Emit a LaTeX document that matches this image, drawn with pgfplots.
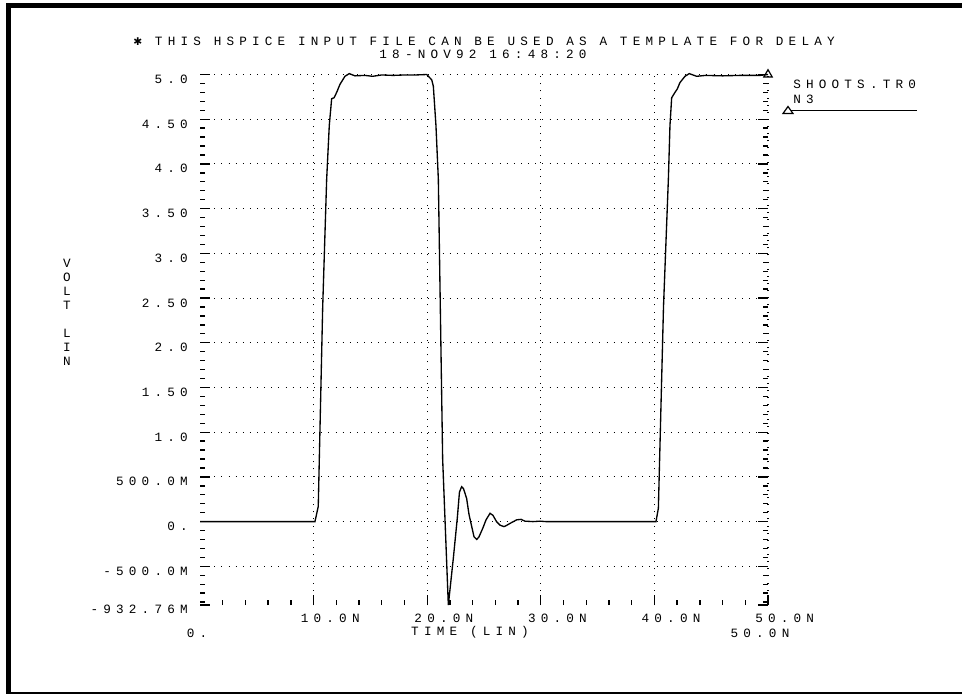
\documentclass[border=0pt]{standalone}
\usepackage{pgfplots}
\pgfplotsset{compat=1.18}
\usepackage{fontspec}
\setmainfont{Liberation Mono}
\newfontfamily\pf[LetterSpace=41]{Liberation Mono}
\newfontfamily\dv{DejaVu Sans}
\newcommand\pff{\pf\fontsize{9.5pt}{10.5pt}\selectfont}

\pgfplotstableread{
t v
0 0
10.12 0
10.41 0.17
10.8 2.4
11.15 3.83
11.38 4.43
11.59 4.73
11.80 4.74
12.03 4.80
12.32 4.89
12.76 4.98
13.14 5.01
13.64 4.985
14.5 4.99
15.2 4.98
16.0 4.995
17.0 4.99
18.0 4.995
19.0 4.995
19.96 5.0
20.40 4.94
20.54 4.87
20.77 4.43
20.98 3.83
21.36 0.70
21.86 -0.93276
22.30 -0.41
22.65 0.04
22.84 0.33
23.03 0.39
23.19 0.37
23.47 0.26
23.68 0.08
23.92 -0.056
24.12 -0.17
24.36 -0.20
24.56 -0.17
24.89 -0.075
25.18 0.02
25.53 0.093
25.79 0.07
26.10 0.0
26.41 -0.04
26.76 -0.056
27.02 -0.04
27.29 -0.02
27.88 0.02
28.26 0.025
28.61 0.005
29.31 0
29.93 0.005
30.46 0
40.14 0
40.35 0.15
40.8 2.4
41.23 3.83
41.37 4.43
41.52 4.74
41.81 4.80
42.02 4.84
42.25 4.91
42.69 4.98
43.07 5.01
43.72 4.98
44.5 4.99
46.0 4.985
47.5 4.99
49.3 4.99
50.0 5.0
}\wave

\begin{document}
\begin{tikzpicture}
\useasboundingbox (0,0) rectangle (721.5pt,-520.5pt);
\begin{scope}[x=0.75pt,y=-0.75pt]
\fill (6,3) rectangle (962,8.3);
\fill (6,3) rectangle (11,694);
\fill (6,691.5) rectangle (962,694);
\node[font=\pff, inner sep=0] at (484,41) {{\dv\fontsize{8pt}{8pt}\selectfont ✱} THIS HSPICE INPUT FILE CAN BE USED AS A TEMPLATE FOR DELAY};
\node[font=\pff, inner sep=0] at (483,54) {18-NOV92 16:48:20};
\node[font=\pff, inner sep=0, align=center] at (67,312.5) {V\\O\\L\\T\\[10.5pt]L\\I\\N};
\node[font=\pff, inner sep=0] at (470,632.5) {TIME (LIN)};
\node[font=\pff, inner sep=0] at (197,633) {0.};
\node[font=\pff, inner sep=0] at (760,633) {50.0N};
\node[font=\pff, inner sep=0, anchor=west] at (793,84.5) {SHOOTS.TR0};
\node[font=\pff, inner sep=0, anchor=west] at (793,99.7) {N3};
\draw[line width=0.9pt] (783,113.5) -- (793,113.5) -- (788,106.5) -- cycle;
\draw[line width=0.9pt] (791,110.7) -- (917,110.7);
\end{scope}
\begin{axis}[
  at={(150pt,-453.75pt)}, anchor=south west,
  scale only axis, width=426pt, height=397.875pt,
  xmin=0, xmax=50, ymin=-0.93276, ymax=5.0,
  axis line style={draw=none},
  tick align=inside,
  xtick pos=left, ytick pos=both,
  xtick={10,20,30,40,50},
  xticklabels={10.0N,20.0N,30.0N,40.0N,50.0N},
  minor xtick={2,4,6,8,12,14,16,18,22,24,26,28,32,34,36,38,42,44,46,48},
  ytick={-0.5,0,0.5,1,1.5,2,2.5,3,3.5,4,4.5,5},
  yticklabels={-500.0M,0.,500.0M,1.0,1.50,2.0,2.50,3.0,3.50,4.0,4.50,5.0},
  minor ytick={-0.9,-0.8,-0.7,-0.6,-0.4,-0.3,-0.2,-0.1,0.1,0.2,0.3,0.4,0.6,0.7,0.8,0.9,1.1,1.2,1.3,1.4,1.6,1.7,1.8,1.9,2.1,2.2,2.3,2.4,2.6,2.7,2.8,2.9,3.1,3.2,3.3,3.4,3.6,3.7,3.8,3.9,4.1,4.2,4.3,4.4,4.6,4.7,4.8,4.9},
  extra y ticks={-0.93276},
  extra y tick labels={-932.76M},
  extra y tick style={grid=none},
  grid=major,
  major grid style={black, line width=0.8pt, dash pattern=on 0.75pt off 4.6pt},
  major tick length=7.5pt, minor tick length=4pt,
  every tick/.style={black, line width=1pt},
  yticklabel style={font=\pff, anchor=east, inner sep=0pt, xshift=-9pt, yshift=-3.6pt},
  xticklabel style={font=\pff, anchor=west, inner sep=0pt, xshift=-9.75pt, yshift=-9.75pt},
  clip=false,
]
\addplot[black, line width=1pt] table[x=t, y=v] {\wave};
\addplot[black, only marks, mark=triangle, mark size=3.6pt, mark options={line width=0.9pt}] coordinates {(50,5.0)};
\end{axis}
\end{tikzpicture}
\end{document}
